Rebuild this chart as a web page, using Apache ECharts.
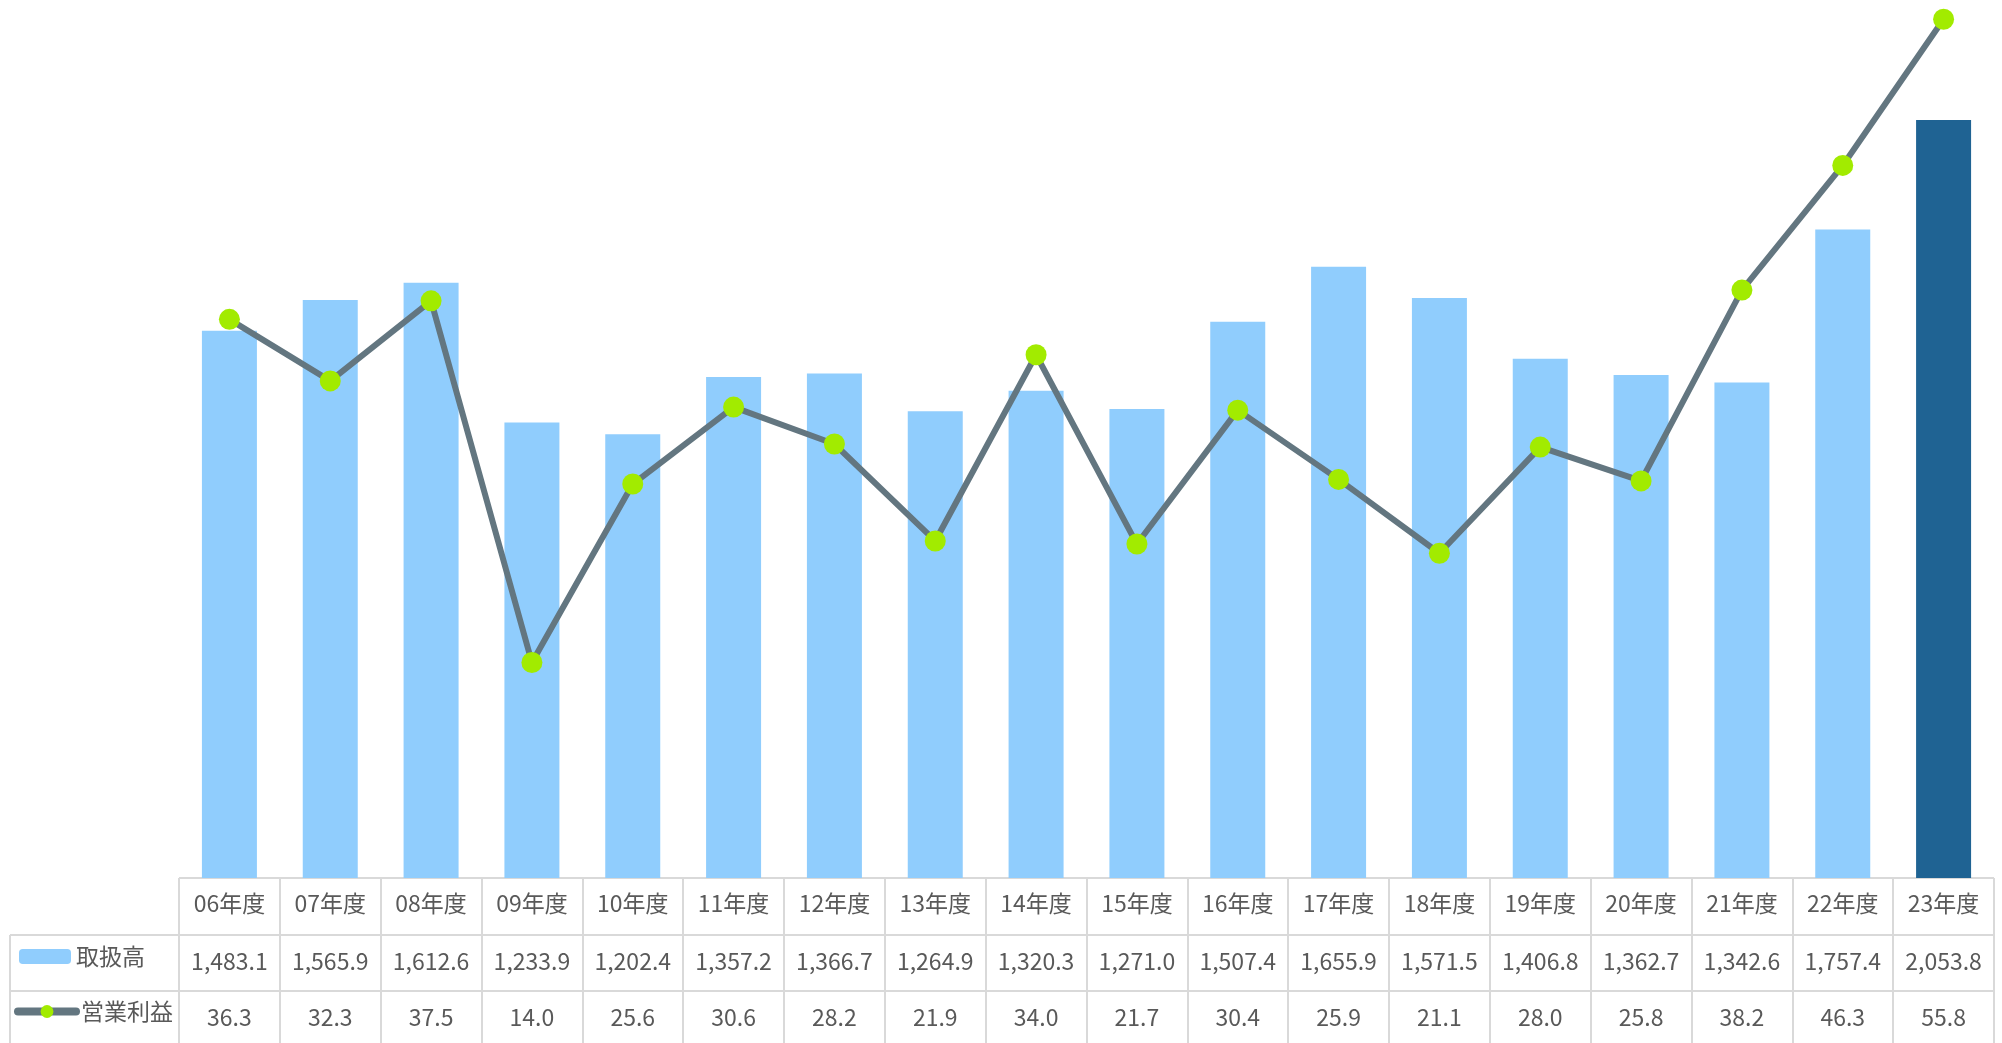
<!DOCTYPE html>
<html>
<head>
<meta charset="utf-8">
<style>html,body{margin:0;padding:0;background:#fff}#c{width:2002px;height:1043px}</style>
<script src="https://cdn.jsdelivr.net/npm/echarts@6/dist/echarts.min.js"></script>
</head>
<body>
<div id="c"></div>
<script>
const categories = ['06年度','07年度','08年度','09年度','10年度','11年度','12年度','13年度','14年度','15年度','16年度','17年度','18年度','19年度','20年度','21年度','22年度','23年度'];
const amounts = [1483.1,1565.9,1612.6,1233.9,1202.4,1357.2,1366.7,1264.9,1320.3,1271.0,1507.4,1655.9,1571.5,1406.8,1362.7,1342.6,1757.4,2053.8];
const profits = [36.3,32.3,37.5,14.0,25.6,30.6,28.2,21.9,34.0,21.7,30.4,25.9,21.1,28.0,25.8,38.2,46.3,55.8];
const seriesNames = ['取扱高','営業利益'];

const FONT = '"Noto Sans CJK JP","Noto Sans",sans-serif';
const TXT = '#595959';
const BORDER = '#d9d9d9';
const fmt = new Intl.NumberFormat('en-US',{minimumFractionDigits:1,maximumFractionDigits:1});
const lastIdx = categories.length - 1;

const chart = echarts.init(document.getElementById('c'));
const labelBase = {fontFamily:FONT,fontSize:23,color:TXT,lineHeight:24,interval:0};
const hiddenAxis = {axisLine:{show:false},axisTick:{show:false},splitLine:{show:false}};
const legendText = {fontFamily:FONT,fontSize:23,color:TXT};

chart.setOption({
  animation:false,
  backgroundColor:'#fff',
  textStyle:{fontFamily:FONT},
  grid:[
    {left:179,right:8,top:0,height:878,outerBoundsMode:'none',containLabel:false},
    {left:179,right:8,top:878,height:169,outerBoundsMode:'none',containLabel:false}
  ],
  legend:[
    {data:[{name:seriesNames[0]}],left:19,top:945,padding:0,itemWidth:52,itemHeight:15,itemGap:0,
     textStyle:legendText,selectedMode:false},
    {data:[{name:seriesNames[1],lineStyle:{width:8,cap:'round'}}],left:14,top:1000,padding:0,itemWidth:58,itemHeight:16,itemGap:0,
     textStyle:legendText,selectedMode:false}
  ],
  xAxis:[
    Object.assign({type:'category',data:categories,gridIndex:0,position:'bottom',axisLabel:Object.assign({margin:13},labelBase)},hiddenAxis),
    Object.assign({type:'category',data:categories,gridIndex:0,position:'bottom',offset:58,
      axisLabel:Object.assign({margin:13,formatter:(v,i)=>fmt.format(amounts[i])},labelBase)},hiddenAxis),
    Object.assign({type:'category',data:categories,gridIndex:0,position:'bottom',offset:114,
      axisLabel:Object.assign({margin:13,formatter:(v,i)=>fmt.format(profits[i])},labelBase)},hiddenAxis),
    {type:'category',data:categories,gridIndex:1,axisLine:{show:false},axisTick:{show:false},axisLabel:{show:false},
      splitLine:{show:true,interval:0,lineStyle:{color:BORDER,width:2}}}
  ],
  yAxis:[
    {type:'value',gridIndex:0,min:0,max:2379,show:false},
    {type:'value',gridIndex:0,min:0,max:57.05,show:false},
    {type:'value',gridIndex:1,min:0,max:3,interval:1,axisLine:{show:false},axisTick:{show:false},axisLabel:{show:false},
      splitLine:{show:true,lineStyle:{color:BORDER,width:2}}}
  ],
  series:[
    {name:seriesNames[0],type:'bar',xAxisIndex:0,yAxisIndex:0,barWidth:55,
     itemStyle:{color:'#90CDFD'},
     data:amounts.map((v,i)=>i===lastIdx?{value:v,itemStyle:{color:'#1F6393'}}:v)},
    {name:seriesNames[1],type:'line',xAxisIndex:0,yAxisIndex:1,data:profits,
     symbol:'circle',symbolSize:21,showAllSymbol:true,
     lineStyle:{color:'#637680',width:6},
     itemStyle:{color:'#A2EB00',borderWidth:0}}
  ],
  graphic:[
    {type:'line',shape:{x1:10,y1:935,x2:179,y2:935},style:{stroke:BORDER,lineWidth:2},silent:true},
    {type:'line',shape:{x1:10,y1:991,x2:179,y2:991},style:{stroke:BORDER,lineWidth:2},silent:true},
    {type:'line',shape:{x1:10,y1:935,x2:10,y2:1043},style:{stroke:BORDER,lineWidth:2},silent:true}
  ]
});
</script>
</body>
</html>
